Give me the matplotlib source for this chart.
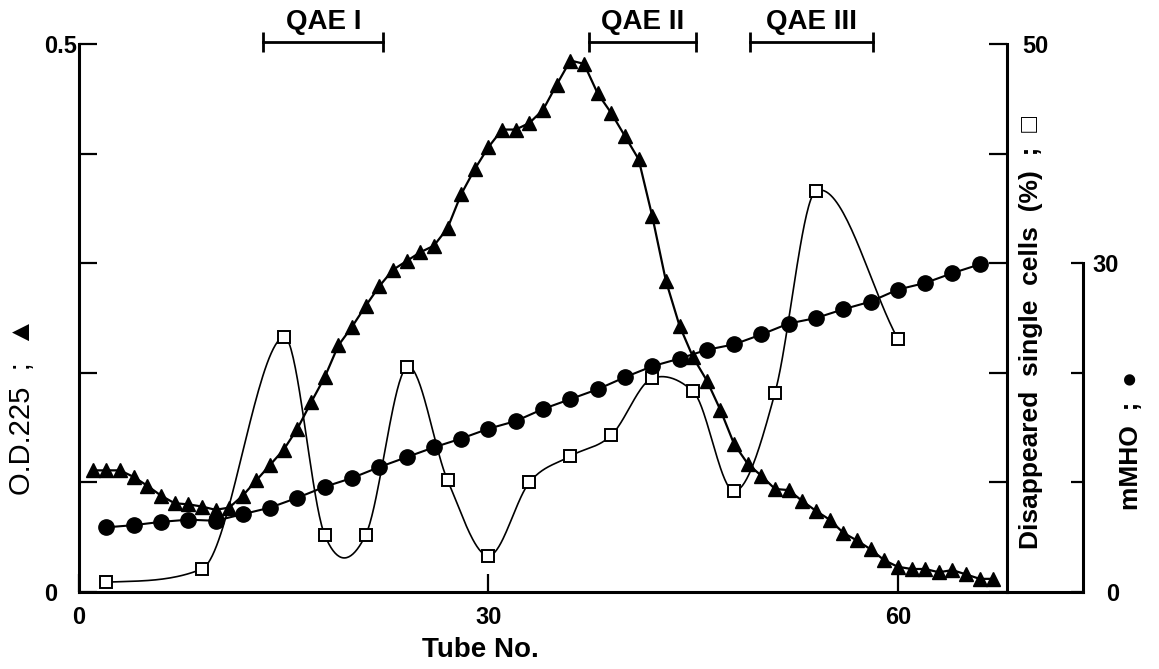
import numpy as np
import matplotlib
matplotlib.use('Agg')
import matplotlib.pyplot as plt

plt.rcParams['font.family'] = ['Liberation Sans', 'DejaVu Sans']

# O.D.225 (triangles), one reading per tube
tube_od = list(range(1, 68))
od = [0.111, 0.111, 0.111, 0.105, 0.097, 0.088, 0.081, 0.080, 0.078, 0.075,
      0.077, 0.088, 0.102, 0.116, 0.130, 0.149, 0.173, 0.196, 0.225, 0.242,
      0.261, 0.279, 0.294, 0.302, 0.310, 0.316, 0.332, 0.363, 0.386, 0.406,
      0.422, 0.422, 0.428, 0.440, 0.463, 0.485, 0.482, 0.455, 0.437, 0.416,
      0.395, 0.343, 0.284, 0.243, 0.214, 0.193, 0.166, 0.135, 0.117, 0.106,
      0.094, 0.093, 0.083, 0.074, 0.066, 0.054, 0.047, 0.039, 0.029, 0.023,
      0.021, 0.021, 0.018, 0.020, 0.016, 0.012, 0.012]

# conductivity (circles), every second tube
tube_mmho = list(range(2, 67, 2))
mmho = [5.9, 6.1, 6.4, 6.6, 6.5, 7.1, 7.7, 8.6, 9.6, 10.4, 11.4, 12.3, 13.2,
        14.0, 14.9, 15.6, 16.7, 17.6, 18.5, 19.6, 20.6, 21.3, 22.1, 22.6,
        23.5, 24.5, 25.0, 25.8, 26.5, 27.6, 28.2, 29.1, 29.9]

# disappeared single cells (squares)
tube_pct = [2, 9, 15, 18, 21, 24, 27, 30, 33, 36, 39, 42, 45, 48, 51, 54, 60]
pct = [0.9, 2.1, 23.3, 5.2, 5.2, 20.5, 10.2, 3.3, 10.0, 12.4, 14.3, 19.5,
       18.3, 9.2, 18.2, 36.6, 23.1]

# fraction pools
qae_names = ['QAE I', 'QAE II', 'QAE III']
qae_start = [13.5, 37.4, 49.2]
qae_end   = [22.3, 45.2, 58.2]

FONT_TICK  = 17
FONT_LABEL = 21


#
# smooth hand-drawn looking curve through the points (cardinal hermite,
# tangents damped where a rising/falling stretch would overshoot a lot)
#
def smooth(x, y, n=40):
    x = np.asarray(x, float)
    y = np.asarray(y, float)
    d = np.diff(y) / np.diff(x)
    m = np.empty_like(y)
    m[1:-1] = (y[2:] - y[:-2]) / (x[2:] - x[:-2])
    m[0]  = d[0]
    m[-1] = d[-1]
    for k in range(len(d)):
        if d[k] == 0:
            continue
        a = m[k] / d[k]
        b = m[k + 1] / d[k]
        r = a * a + b * b
        if r > 9:
            t = 3 / np.sqrt(r)
            m[k] = t * a * d[k]
            m[k + 1] = t * b * d[k]
    s = np.linspace(0, 1, n)
    h00 = 2 * s**3 - 3 * s**2 + 1
    h10 = s**3 - 2 * s**2 + s
    h01 = -2 * s**3 + 3 * s**2
    h11 = s**3 - s**2
    xs, ys = [], []
    for i in range(len(x) - 1):
        h = x[i + 1] - x[i]
        xs.append(x[i] + s * h)
        ys.append(h00 * y[i] + h10 * h * m[i] + h01 * y[i + 1] + h11 * h * m[i + 1])
    return np.concatenate(xs), np.concatenate(ys)


fig = plt.figure(figsize=(11.59, 6.69), dpi=100)
ax = fig.add_axes([0.0682, 0.1151, 0.8007, 0.819])
ax2 = ax.twinx()
ax3 = ax.twinx()

# triangles
ax.plot(tube_od, od, color='black', lw=1.6, marker='^', ms=9.5, zorder=3)

# squares with a smooth line
sx, sy = smooth(tube_pct, pct)
ax2.plot(sx, sy, color='black', lw=1.2, zorder=2)
ax2.plot(tube_pct, pct, ls='none', marker='s', ms=8.5, mfc='white',
         mec='black', mew=1.4, zorder=4)

# circles
ax3.plot(tube_mmho, mmho, color='black', lw=1.5, marker='o', ms=11, zorder=5)

ax.set_xlim(0, 68)
ax.set_ylim(0, 0.5)
ax2.set_ylim(0, 50)
ax3.set_ylim(0, 50)

for a in (ax, ax2, ax3):
    a.spines['top'].set_visible(False)
    for sp in a.spines.values():
        sp.set_linewidth(2.2)
for a in (ax2, ax3):
    a.spines['left'].set_visible(False)
    a.spines['bottom'].set_visible(False)
ax.spines['right'].set_visible(False)

# left axis
ax.set_yticks([0, 0.1, 0.2, 0.3, 0.4, 0.5])
ax.set_yticklabels(['0', '', '', '', '', '0.5'])
ax.tick_params(axis='y', direction='in', length=13, width=1.6, pad=25,
               labelsize=FONT_TICK)
for lbl in ax.get_yticklabels():
    lbl.set_fontweight('bold')
    lbl.set_horizontalalignment('left')

ax.set_xticks([0, 30, 60])
ax.set_xticklabels(['0', '30', '60'], fontweight='bold')
ax.tick_params(axis='x', direction='in', length=13, width=1.6, pad=10,
               labelsize=FONT_TICK)

# percent axis
ax2.set_yticks([0, 10, 20, 30, 40, 50])
ax2.set_yticklabels(['', '', '', '', '', '50'], fontweight='bold')
ax2.tick_params(axis='y', direction='in', length=13, width=1.6, pad=11,
                labelsize=FONT_TICK)

# mMHO axis, drawn only from 0 to 30
ax3.spines['right'].set_position(('axes', 1.082))
ax3.spines['right'].set_bounds(0, 30)
ax3.set_yticks([0, 10, 20, 30])
ax3.set_yticklabels(['0', '', '', '30'], fontweight='bold')
ax3.tick_params(axis='y', direction='in', length=9, width=1.6, pad=26,
                labelsize=FONT_TICK)
for lbl in ax3.get_yticklabels():
    lbl.set_horizontalalignment('right')

# bottom line carried on under the right axes
ax.plot([1, 1.082], [0, 0], transform=ax.transAxes, color='black', lw=2.2,
        clip_on=False)

ax.set_xlabel('Tube No.', fontsize=20, fontweight='bold')
ax.xaxis.set_label_coords(0.432, -0.106)
ax.xaxis.label.set_verticalalignment('center')
ax.set_ylabel('O.D.225  ;  \u25b2', fontsize=FONT_LABEL)
ax.yaxis.set_label_coords(-0.061, 0.339)
ax.yaxis.label.set_verticalalignment('center')
ax2.set_ylabel('Disappeared  single  cells  (%)  ;  \u25a1', fontsize=19,
               fontweight='bold', rotation=90)
ax2.yaxis.set_label_coords(1.026, 0.473)
ax2.yaxis.label.set_verticalalignment('center')
ax3.set_ylabel('mMHO  ;  \u25cf', fontsize=19, fontweight='bold', rotation=90)
ax3.yaxis.set_label_coords(1.134, 0.277)
ax3.yaxis.label.set_verticalalignment('center')

# fraction brackets on top
for name, x0, x1 in zip(qae_names, qae_start, qae_end):
    ax.plot([x0, x1], [0.502, 0.502], color='black', lw=2, clip_on=False)
    ax.vlines([x0, x1], 0.493, 0.511, color='black', lw=2, clip_on=False)
    ax.text((x0 + x1) / 2, 0.508, name, ha='center', va='bottom',
            fontsize=20, fontweight='bold')

fig.savefig('out.png', dpi=100)
